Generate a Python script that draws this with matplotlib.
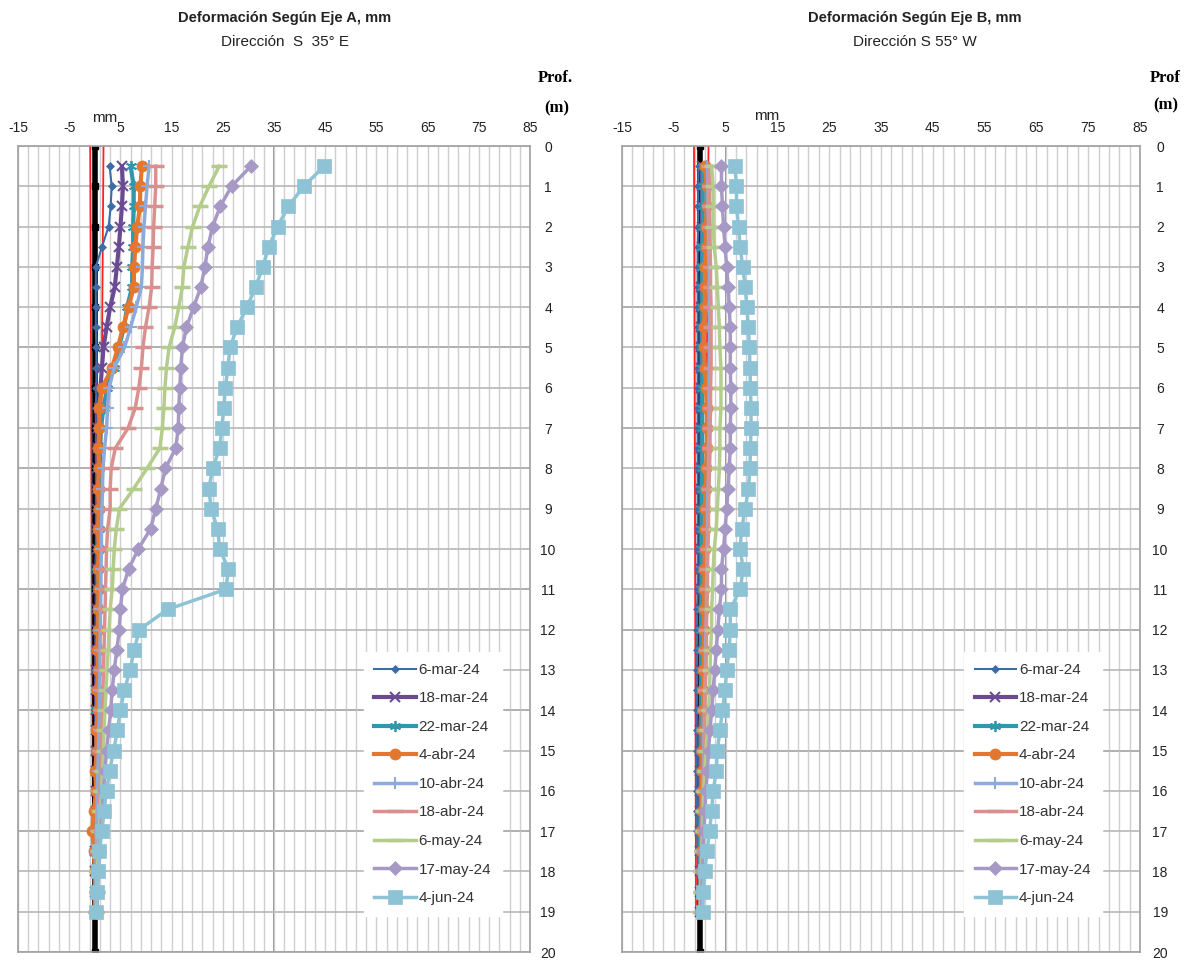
import numpy as np
import matplotlib
matplotlib.use("Agg")
import matplotlib.pyplot as plt

plt.rcParams['font.family'] = ['Liberation Sans', 'DejaVu Sans']
plt.rcParams['axes.unicode_minus'] = False

# ---------------- data ----------------
depths = [0.5, 1.0, 1.5, 2.0, 2.5, 3.0, 3.5, 4.0, 4.5, 5.0, 5.5, 6.0, 6.5, 7.0, 7.5,
          8.0, 8.5, 9.0, 9.5, 10.0, 10.5, 11.0, 11.5, 12.0, 12.5, 13.0, 13.5, 14.0,
          14.5, 15.0, 15.5, 16.0, 16.5, 17.0, 17.5, 18.0, 18.5, 19.0]
labels = ['6-mar-24', '18-mar-24', '22-mar-24', '4-abr-24', '10-abr-24',
          '18-abr-24', '6-may-24', '17-may-24', '4-jun-24']

# Eje A
a_6mar = [2.9, 3.3, 3.1, 2.7, 1.4, 0.2, 0.2, 0.2, 0.2, 0.3, 0.3, 0.3, 0.2, 0.2, 0.2, 0.2, 0.2, 0.2, 0.2,
          0.2, 0.1, 0.2, 0.2, 0.1, 0.1, 0.1, 0.1, 0.1, 0.1, 0.0, 0.0, 0.0, 0.0, 0.0, 0.0, 0.0, 0.0, 0.0]
a_18mar = [5.3, 5.5, 5.3, 5.0, 4.7, 4.3, 3.9, 3.0, 2.3, 1.7, 1.4, 1.1, 0.8, 0.6, 0.6, 0.5, 0.5, 0.5, 0.5,
           0.5, 0.4, 0.4, 0.4, 0.4, 0.4, 0.3, 0.3, 0.3, 0.3, 0.3, 0.2, 0.2, 0.2, 0.2, 0.1, 0.1, 0.1, 0.1]
a_22mar = [7.0, 7.6, 7.6, 7.5, 7.5, 7.3, 7.3, 6.3, 5.7, 4.7, 3.7, 2.4, 1.7, 1.2, 1.0, 0.9, 0.9, 0.8, 0.8,
           0.8, 0.7, 0.7, 0.7, 0.6, 0.6, 0.6, 0.5, 0.5, 0.5, 0.4, 0.4, 0.3, 0.3, 0.3, 0.2, 0.2, 0.2, 0.1]
a_4abr = [9.2, 8.9, 8.8, 8.3, 7.9, 7.7, 7.6, 6.6, 5.5, 4.5, 3.4, 1.4, 0.8, 0.9, 0.7, 0.8, 0.6, 0.8, 0.6,
          0.8, 0.6, 0.8, 0.6, 0.7, 0.5, 0.7, 0.4, 0.6, 0.3, 0.4, 0.1, 0.3, -0.2, -0.5, -0.2, 0.0, 0.0, 0.0]
a_10abr = [10.6, 10.2, 9.9, 9.6, 9.4, 9.3, 9.1, 8.1, 7.0, 5.8, 3.8, 2.8, 2.5, 2.3, 1.9, 1.6, 1.5, 1.4, 1.3,
           1.3, 1.2, 1.2, 1.1, 1.1, 1.0, 1.0, 0.9, 0.9, 0.8, 0.7, 0.6, 0.5, 0.4, 0.3, 0.3, 0.2, 0.2, 0.1]
a_18abr = [11.9, 11.9, 11.7, 11.5, 11.4, 11.2, 11.1, 10.6, 9.9, 9.4, 9.1, 8.6, 7.9, 6.5, 4.0, 3.2, 3.0, 3.0, 2.5,
           2.3, 2.2, 2.1, 2.0, 1.9, 1.8, 1.7, 1.6, 1.5, 1.4, 1.3, 1.2, 1.0, 0.9, 0.8, 0.6, 0.5, 0.4, 0.3]
a_6may = [24.3, 22.3, 20.5, 19.1, 18.2, 17.4, 17.1, 16.4, 15.6, 14.5, 14.0, 13.7, 13.5, 13.2, 12.7, 10.2, 7.6, 4.8, 4.2,
          3.8, 3.6, 3.4, 3.0, 2.8, 2.6, 2.4, 2.2, 2.0, 1.8, 1.7, 1.5, 1.3, 1.1, 0.9, 0.7, 0.5, 0.4, 0.3]
a_17may = [30.5, 26.7, 24.5, 23.0, 22.1, 21.5, 20.7, 19.3, 17.9, 17.1, 16.8, 16.6, 16.4, 16.3, 15.8, 13.8, 12.9, 11.9, 10.9,
           8.5, 6.6, 5.4, 5.0, 4.8, 4.3, 3.8, 3.4, 3.1, 2.7, 2.3, 2.0, 1.7, 1.4, 1.1, 0.9, 0.7, 0.5, 0.3]
a_4jun = [44.8, 40.8, 37.8, 35.7, 34.0, 32.8, 31.4, 29.7, 27.8, 26.4, 26.0, 25.5, 25.2, 24.8, 24.4, 23.0, 22.3, 22.7, 24.0,
          24.4, 26.1, 25.6, 14.2, 8.7, 7.7, 6.9, 5.8, 5.0, 4.4, 3.7, 2.9, 2.3, 1.8, 1.4, 0.9, 0.7, 0.5, 0.3]

# Eje B
b_6mar = [-0.2, -0.3, -0.3, -0.3, -0.4, -0.4, -0.4, -0.4, -0.4, -0.4, -0.4, -0.4, -0.4, -0.4, -0.4, -0.4, -0.4, -0.4, -0.4,
          -0.4, -0.4, -0.4, -0.5, -0.5, -0.5, -0.5, -0.5, -0.6, -0.6, -0.6, -0.6, -0.6, -0.5, -0.5, -0.4, -0.3, -0.2, -0.1]
b_18mar = [0.4, 0.4, 0.4, 0.4, 0.4, 0.4, 0.3, 0.3, 0.3, 0.3, 0.3, 0.3, 0.3, 0.3, 0.3, 0.3, 0.3, 0.3, 0.3,
           0.2, 0.2, 0.2, 0.2, 0.2, 0.2, 0.2, 0.2, 0.2, 0.1, 0.1, 0.1, 0.1, 0.1, 0.1, 0.1, 0.0, 0.0, 0.0]
b_22mar = [0.6, 0.6, 0.6, 0.6, 0.5, 0.5, 0.5, 0.5, 0.5, 0.5, 0.5, 0.5, 0.5, 0.5, 0.5, 0.5, 0.4, 0.4, 0.4,
           0.4, 0.4, 0.4, 0.3, 0.3, 0.3, 0.3, 0.3, 0.3, 0.2, 0.2, 0.2, 0.2, 0.2, 0.1, 0.1, 0.1, 0.1, 0.1]
b_4abr = [1.0, 1.4, 1.4, 1.2, 1.2, 1.0, 1.0, 1.0, 0.8, 0.8, 1.0, 1.2, 1.4, 1.4, 1.4, 1.2, 1.2, 1.0, 1.0,
          1.0, 0.9, 0.9, 0.8, 0.8, 0.8, 0.7, 0.7, 0.6, 0.6, 0.5, 0.5, 0.4, 0.4, 0.3, 0.3, 0.2, 0.2, 0.1]
b_10abr = [1.5, 1.6, 1.6, 1.7, 1.7, 1.8, 1.8, 1.8, 1.9, 1.9, 1.9, 1.8, 1.8, 1.8, 1.7, 1.7, 1.6, 1.5, 1.5,
           1.4, 1.4, 1.3, 1.3, 1.2, 1.1, 1.1, 1.0, 0.9, 0.8, 0.8, 0.7, 0.6, 0.5, 0.4, 0.4, 0.3, 0.2, 0.2]
b_18abr = [1.8, 1.9, 1.9, 2.0, 2.0, 2.1, 2.1, 2.2, 2.2, 2.2, 2.2, 2.1, 2.1, 2.0, 2.0, 1.9, 1.8, 1.7, 1.7,
           1.6, 1.5, 1.5, 1.4, 1.3, 1.3, 1.2, 1.1, 1.0, 0.9, 0.9, 0.8, 0.7, 0.6, 0.5, 0.4, 0.3, 0.3, 0.2]
b_6may = [2.3, 2.6, 2.6, 2.6, 2.8, 3.2, 3.4, 3.6, 3.8, 3.9, 4.1, 4.1, 4.1, 3.9, 3.9, 3.8, 3.6, 3.4, 3.2,
          2.8, 2.6, 2.5, 2.3, 2.3, 2.1, 2.0, 1.9, 1.7, 1.5, 1.2, 1.0, 0.8, 0.7, 0.6, 0.4, 0.3, 0.2, 0.1]
b_17may = [4.2, 4.2, 4.4, 4.6, 4.9, 5.2, 5.5, 5.7, 5.9, 5.9, 5.9, 6.0, 6.0, 5.9, 5.9, 5.7, 5.5, 5.2, 4.9,
           4.6, 4.2, 4.2, 3.8, 3.5, 3.2, 2.9, 2.6, 2.3, 2.0, 1.7, 1.5, 1.2, 1.0, 0.8, 0.6, 0.5, 0.4, 0.3]
b_4jun = [6.8, 7.1, 7.1, 7.5, 7.8, 8.3, 8.8, 9.1, 9.4, 9.6, 9.7, 9.8, 9.9, 9.9, 9.8, 9.7, 9.4, 8.8, 8.1,
          7.8, 8.4, 7.8, 5.9, 5.9, 5.7, 5.2, 4.9, 4.4, 3.9, 3.4, 3.2, 2.6, 2.3, 1.9, 1.4, 1.0, 0.7, 0.6]

# reference line (black) and tolerance envelope (red)
ref_depths = [0, 1, 2, 3, 4, 5, 6, 7, 8, 9, 10, 11, 12, 13, 14, 15, 16, 17, 18, 19, 20]
ref_values = [0] * 21
env_depths = [0, 19]
a_env_left = [-0.9, -0.3]
a_env_right = [1.7, 0.6]
b_env_left = [-1.1, -0.7]
b_env_right = [1.7, 0.6]

x_ticks = [-15, -5, 5, 15, 25, 35, 45, 55, 65, 75, 85]
y_ticks = list(range(0, 21))

# ---------------- styles ----------------
styles = [
    dict(color='#3D6DA6', marker='D', ms=4.5, lw=1.5, mew=0.5),
    dict(color='#6A4B93', marker='x', ms=7, lw=3, mew=1.5),
    dict(color='#2F97AE', marker=(6, 2, 0), ms=8, lw=3, mew=1.3),
    dict(color='#E3772F', marker='o', ms=8, lw=3, mew=0.5),
    dict(color='#8EAADB', marker='+', ms=8, lw=2.5, mew=1.5),
    dict(color='#D9918F', marker='_', ms=11, lw=2.5, mew=2.5),
    dict(color='#B4CC8C', marker='_', ms=11, lw=2.5, mew=2.5),
    dict(color='#A799C5', marker='D', ms=7.5, lw=2.5, mew=0.5),
    dict(color='#8DC3D5', marker='s', ms=10.5, lw=2.5, mew=0.5),
]

W, H = 1194, 963
fig = plt.figure(figsize=(W / 100, H / 100), dpi=100)
fig.patch.set_facecolor('white')


def make_axes(x0, x1, dark_h, dark_v, series, env_l, env_r, ypad, leg_x):
    ax = fig.add_axes([x0 / W, 1 - 952 / H, (x1 - x0) / W, 806 / H])
    ax.set_xlim(-15, 85)
    ax.set_ylim(20, 0)
    ax.xaxis.tick_top()
    ax.yaxis.tick_right()
    ax.set_xticks(x_ticks)
    ax.set_xticks(np.arange(-15, 86, 2), minor=True)
    ax.set_yticks(y_ticks)
    ax.tick_params(which='both', length=0)
    ax.tick_params(axis='x', labelsize=10, pad=8, colors='#222222')
    ax.tick_params(axis='y', labelsize=10, pad=ypad, colors='#222222')
    for lab in ax.get_yticklabels():
        lab.set_horizontalalignment('center')
    ax.grid(which='both', axis='x', color='#CFCFCF', lw=1.0, zorder=0)
    ax.grid(which='major', axis='y', color='#B8B8B8', lw=1.2, zorder=0)
    for d in dark_h:
        ax.axhline(d, color='#7A7A7A', lw=1.2, zorder=0.5)
    for v in dark_v:
        ax.axvline(v, color='#7A7A7A', lw=1.2, zorder=0.5)
    ax.set_axisbelow(True)
    for sp in ax.spines.values():
        sp.set_color('#A0A0A0')
        sp.set_linewidth(1.2)

    ax.plot(env_l, env_depths, color='#FF2020', lw=1.3, zorder=2)
    ax.plot(env_r, env_depths, color='#FF2020', lw=1.3, zorder=2)
    ax.plot(ref_values, ref_depths, color='black', lw=4, marker='s', ms=5, zorder=2.5)

    handles = []
    for vals, lab, st in zip(series, labels, styles):
        h, = ax.plot(vals, depths, label=lab, zorder=3, **st)
        handles.append(h)
    leg = ax.legend(handles=handles, loc='lower left', bbox_to_anchor=(leg_x, 0.045),
                    fontsize=11, labelspacing=0.95, handlelength=2.7, handletextpad=0.2,
                    borderpad=0.7, frameon=True, fancybox=False, edgecolor='white',
                    framealpha=1.0, borderaxespad=0)
    for t in leg.get_texts():
        t.set_color('#333333')
    return ax


axA = make_axes(18, 530, [5, 8, 11, 14, 17], [35],
                [a_6mar, a_18mar, a_22mar, a_4abr, a_10abr, a_18abr, a_6may, a_17may, a_4jun],
                a_env_left, a_env_right, 13, 0.675)
axB = make_axes(622, 1140, [4, 7, 12, 15], [5],
                [b_6mar, b_18mar, b_22mar, b_4abr, b_10abr, b_18abr, b_6may, b_17may, b_4jun],
                b_env_left, b_env_right, 14.5, 0.66)

# ---------------- texts ----------------
def ftext(x, y, s, **kw):
    fig.text(x / W, 1 - y / H, s, ha='center', va='center', **kw)

ftext(285, 18, 'Deformación Según Eje A, mm', fontsize=10.5, fontweight='bold', color='#222222')
ftext(285, 42, 'Dirección  S  35° E', fontsize=11, color='#222222')
ftext(915, 18, 'Deformación Según Eje B, mm', fontsize=10.5, fontweight='bold', color='#222222')
ftext(915, 42, 'Dirección S 55° W', fontsize=11, color='#222222')

serif = dict(family=['Liberation Serif', 'DejaVu Serif'], fontweight='bold', fontsize=12, color='black')
ftext(555, 78, 'Prof.', **serif)
ftext(557, 108, '(m)', **serif)
ftext(1165, 78, 'Prof', **serif)
ftext(1166, 105, '(m)', **serif)

ftext(105, 118, 'mm', fontsize=11, color='#222222')
ftext(767, 116, 'mm', fontsize=11, color='#222222')

fig.savefig('out.png', dpi=100, facecolor='white')
